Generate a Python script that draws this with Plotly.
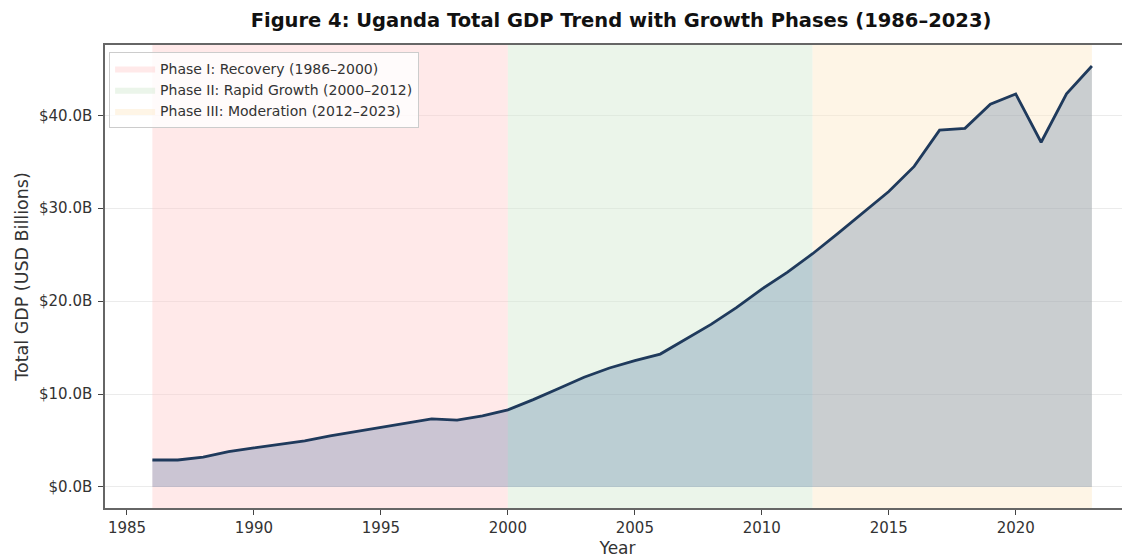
import plotly.graph_objects as go

years = list(range(1986, 2024))
gdp_billions = [2.9, 2.9, 3.2, 3.8, 4.2, 4.6, 4.96, 5.5, 5.96, 6.4,
                6.86, 7.33, 7.2, 7.65, 8.3, 9.4, 10.6, 11.8, 12.8, 13.6,
                14.3, 15.9, 17.5, 19.3, 21.3, 23.1, 25.1, 27.3, 29.6, 31.8,
                34.5, 38.4, 38.6, 41.2, 42.3, 37.1, 42.3, 45.3]

phase_names = ["Phase I: Recovery (1986–2000)",
               "Phase II: Rapid Growth (2000–2012)",
               "Phase III: Moderation (2012–2023)"]
phase_starts = [1986, 2000, 2012]
phase_ends = [2000, 2012, 2023]
phase_colors = ["rgba(255,200,200,0.4)", "rgba(210,232,208,0.45)", "rgba(253,232,200,0.45)"]

x_ticks = [1985, 1990, 1995, 2000, 2005, 2010, 2015, 2020]
y_ticks = [0, 10, 20, 30, 40]
y_tick_labels = ["$0.0B", "$10.0B", "$20.0B", "$30.0B", "$40.0B"]

ymax = max(gdp_billions)
ylo, yhi = -0.05 * ymax, 1.05 * ymax

fig = go.Figure()

for name, s, e, c in zip(phase_names, phase_starts, phase_ends, phase_colors):
    fig.add_trace(go.Scatter(
        x=[s, e, e, s, s], y=[ylo - 5, ylo - 5, yhi + 5, yhi + 5, ylo - 5],
        fill="toself", fillcolor=c, mode="lines", line=dict(width=0, color=c),
        name=name, hoverinfo="skip", showlegend=True))

fig.add_trace(go.Scatter(
    x=years, y=gdp_billions, mode="lines", fill="tozeroy",
    fillcolor="rgba(20,70,130,0.22)",
    line=dict(color="#1f3a5c", width=2.8),
    name="Total GDP", showlegend=False))

W, H = 1122, 551
font_family = "DejaVu Sans"
fig.update_layout(
    width=W, height=H,
    margin=dict(l=97, r=0, t=37, b=51, autoexpand=False),
    paper_bgcolor="white", plot_bgcolor="white",
    font=dict(family=font_family, color="#333333", size=15),
    title=dict(text="<b>Figure 4: Uganda Total GDP Trend with Growth Phases (1986–2023)</b>",
               x=613 / W, xanchor="center", xref="container",
               y=1 - 12 / H, yanchor="middle", yref="container",
               font=dict(family=font_family, size=19.5, color="#111111")),
    legend=dict(x=0.004, y=0.985, xanchor="left", yanchor="top",
                bgcolor="rgba(255,255,255,0.8)", bordercolor="#cccccc", borderwidth=1,
                font=dict(family=font_family, size=14, color="#333333"),
                itemwidth=40, tracegroupgap=0),
    showlegend=True,
)

fig.update_xaxes(
    range=[1984.134, 2024.5], tickvals=x_ticks, ticks="outside", ticklen=5,
    tickcolor="#444444", showline=True, linecolor="#666666", linewidth=1.5, mirror=True,
    showgrid=False, zeroline=False, automargin=False,
    title=dict(text="Year", font=dict(size=17, color="#333333"), standoff=6),
    tickfont=dict(size=15, color="#333333"))

fig.update_yaxes(
    range=[ylo, yhi], tickvals=y_ticks, ticktext=y_tick_labels, ticks="outside", ticklen=5,
    ticklabelstandoff=3,
    tickcolor="#444444", showline=True, linecolor="#666666", linewidth=1.5, mirror=True,
    showgrid=True, gridcolor="rgba(0,0,0,0.08)", gridwidth=1, zeroline=False, automargin=False,
    title=dict(text="Total GDP (USD Billions)", font=dict(size=17.5, color="#333333"), standoff=6),
    tickfont=dict(size=15, color="#333333"))

fig.write_html("out.html")
